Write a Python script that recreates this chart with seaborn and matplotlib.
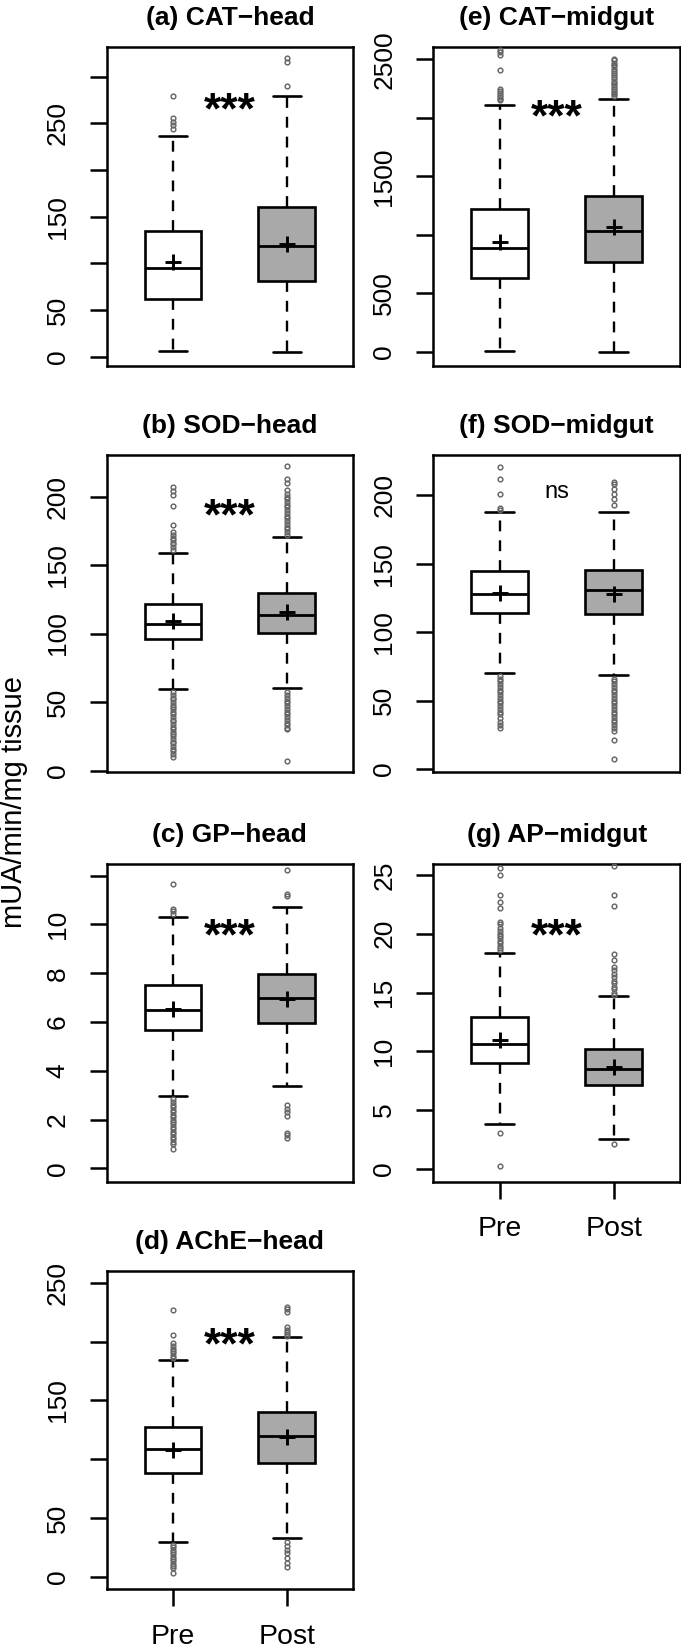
import numpy as np
import pandas as pd
import matplotlib
matplotlib.use("Agg")
import matplotlib.pyplot as plt
import seaborn as sns

# ---------------- data ----------------
groups = ["Pre", "Post"]
# five-number summaries: [lower whisker, Q1, median, Q3, upper whisker]
a_pre_box = [6.4, 61.5, 95.4, 134.7, 236.8]
a_post_box = [4.6, 81.1, 118.6, 160.4, 279.0]
a_means = [101.8, 120.4]
a_pre_out = [244, 248, 252, 256, 279]
a_post_out = [290, 316, 320]

e_pre_box = [6, 632, 886, 1225, 2108]
e_post_box = [0, 769, 1034, 1336, 2165]
e_means = [943, 1068]
e_pre_out = [2150, 2165, 2180, 2195, 2210, 2230, 2250, 2405, 2540, 2560, 2580]
e_post_out = [2190, 2205, 2215, 2230, 2245, 2260, 2280, 2295, 2310, 2330, 2350,
              2365, 2380, 2400, 2420, 2440, 2455, 2470, 2490, 2500]

b_pre_box = [59.5, 96.0, 106.9, 121.3, 159.0]
b_post_box = [60.5, 100.6, 113.5, 129.3, 170.7]
b_means = [109.1, 115.9]
b_pre_out = [161, 163, 165, 166, 168, 170, 172, 174, 179, 193, 201, 204, 207,
             57, 55, 53, 52, 50, 48, 46, 45, 43, 41, 39, 37, 36, 34, 32, 30,
             28, 27, 25, 23, 21, 20, 18, 16, 14, 12, 10]
b_post_out = [172, 174, 176, 178, 180, 182, 184, 186, 188, 190, 192, 194, 196,
              198, 200, 202, 205, 210, 213, 222,
              57, 55, 53, 51, 49, 47, 45, 43, 41, 39, 37, 35, 33, 31, 30, 7]

f_pre_box = [70.0, 113.8, 127.9, 144.7, 187.6]
f_post_box = [68.7, 113.0, 130.8, 145.5, 188.0]
f_means = [128.4, 127.9]
f_pre_out = [189, 191, 201, 212, 221,
             68, 66, 64, 62, 60, 58, 56, 54, 52, 50, 48, 46, 44, 42, 40, 37, 34, 32, 30]
f_post_out = [193, 197, 201, 205, 208, 210,
              66, 64, 62, 60, 58, 56, 54, 52, 50, 48, 46, 44, 42, 40, 38, 36, 34,
              32, 30, 28, 21, 7]

c_pre_box = [2.98, 5.68, 6.50, 7.52, 10.30]
c_post_box = [3.38, 5.95, 6.98, 7.96, 10.70]
c_means = [6.52, 6.93]
c_pre_out = [10.45, 10.55, 10.65, 11.65,
             2.85, 2.7, 2.6, 2.5, 2.4, 2.3, 2.2, 2.1, 2.0, 1.9, 1.8, 1.7, 1.6,
             1.5, 1.4, 1.3, 1.2, 1.1, 1.0, 0.8]
c_post_out = [11.15, 11.25, 12.25, 2.6, 2.45, 2.3, 2.15, 1.45, 1.35, 1.25]

g_pre_box = [3.84, 9.00, 10.65, 12.92, 18.38]
g_post_box = [2.56, 7.16, 8.50, 10.20, 14.70]
g_means = [10.94, 8.68]
g_pre_out = [18.6, 18.8, 19.0, 19.2, 19.4, 19.6, 19.8, 20.0, 20.2, 20.5, 20.8,
             21.0, 22.2, 22.7, 23.3, 25.0, 25.6, 3.07, 0.22]
g_post_out = [14.8, 15.0, 15.3, 15.5, 15.8, 16.0, 16.3, 16.6, 16.9, 17.2, 17.8,
              18.3, 22.4, 23.3, 25.8, 2.13]

d_pre_box = [29.3, 87.9, 108.3, 127.4, 184.3]
d_post_box = [32.7, 97.1, 119.9, 140.3, 204.0]
d_means = [107.7, 119.0]
d_pre_out = [186, 188, 190, 192, 194, 196, 199, 205.5, 226.8,
             27, 25, 23, 21, 19, 17, 15, 13, 11, 9, 7, 3]
d_post_out = [204.5, 206, 208, 210, 212.6, 225.4, 228, 229.6,
              29.8, 26, 23, 20, 16, 12, 8.5]

titles = {"a": ("(a)", "CAT\u2212head"), "b": ("(b)", "SOD\u2212head"),
          "c": ("(c)", "GP\u2212head"), "d": ("(d)", "AChE\u2212head"),
          "e": ("(e)", "CAT\u2212midgut"), "f": ("(f)", "SOD\u2212midgut"),
          "g": ("(g)", "AP\u2212midgut")}
significance = {"a": "***", "b": "***", "c": "***", "d": "***",
                "e": "***", "f": "ns", "g": "***"}
sig_y = {"a": 277, "b": 194.5, "c": 10.0, "d": 207.5,
         "e": 2108, "f": 202.5, "g": 20.8}

yticks = {"a": [0, 50, 100, 150, 200, 250, 300],
          "b": [0, 50, 100, 150, 200],
          "c": [0, 2, 4, 6, 8, 10, 12],
          "d": [0, 50, 100, 150, 200, 250],
          "e": [0, 500, 1000, 1500, 2000, 2500],
          "f": [0, 50, 100, 150, 200],
          "g": [0, 5, 10, 15, 20, 25]}
ytick_labels = {"a": ["0", "50", "", "150", "", "250", ""],
                "b": ["0", "50", "100", "150", "200"],
                "c": ["0", "2", "4", "6", "8", "10", ""],
                "d": ["0", "50", "", "150", "", "250"],
                "e": ["0", "500", "", "1500", "", "2500"],
                "f": ["0", "50", "100", "150", "200"],
                "g": ["0", "5", "10", "15", "20", "25"]}
ylims = {"a": (-10, 332), "b": (-1.3, 230.3), "c": (-0.54, 12.48),
         "d": (-10.5, 260), "e": (-120, 2605), "f": (-2.4, 229.5),
         "g": (-1.08, 25.94)}

panel_data = {
    "a": (a_pre_box, a_post_box, a_means, a_pre_out, a_post_out),
    "b": (b_pre_box, b_post_box, b_means, b_pre_out, b_post_out),
    "c": (c_pre_box, c_post_box, c_means, c_pre_out, c_post_out),
    "d": (d_pre_box, d_post_box, d_means, d_pre_out, d_post_out),
    "e": (e_pre_box, e_post_box, e_means, e_pre_out, e_post_out),
    "f": (f_pre_box, f_post_box, f_means, f_pre_out, f_post_out),
    "g": (g_pre_box, g_post_box, g_means, g_pre_out, g_post_out),
}

# ---------------- style ----------------
sns.set_theme(style="ticks")
plt.rcParams["font.family"] = ["Liberation Sans", "DejaVu Sans"]
plt.rcParams["axes.unicode_minus"] = True
plt.rcParams["text.color"] = "black"
plt.rcParams["axes.titlecolor"] = "black"
plt.rcParams["axes.labelcolor"] = "black"
plt.rcParams["xtick.color"] = "black"
plt.rcParams["ytick.color"] = "black"
plt.rcParams["axes.edgecolor"] = "black"

W, H = 681, 1647
fig = plt.figure(figsize=(W / 100, H / 100), dpi=100)

left_x, right_x = 107 / W, 433.3 / W
left_w, right_w = 245.7 / W, 246.7 / W
rows = [(47, 366), (455, 772.3), (864, 1181.5), (1271, 1589)]

layout = {"a": (0, 0), "b": (0, 1), "c": (0, 2), "d": (0, 3),
          "e": (1, 0), "f": (1, 1), "g": (1, 2)}
bottom_panels = {"d", "g"}

palette = {"Pre": "white", "Post": "#a9a9a9"}
LW = 1.9

for key, (col, row) in layout.items():
    top_px, bot_px = rows[row]
    x0 = left_x if col == 0 else right_x
    w = left_w if col == 0 else right_w
    ax = fig.add_axes([x0, 1 - bot_px / H, w, (bot_px - top_px) / H])

    pre_box, post_box, means, pre_out, post_out = panel_data[key]
    df = pd.DataFrame({"group": ["Pre"] * len(pre_box) + ["Post"] * len(post_box),
                       "value": pre_box + post_box})
    sns.boxplot(data=df, x="group", y="value", hue="group", order=groups,
                hue_order=groups, palette=palette, width=0.5, whis=(0, 100),
                showfliers=False, linecolor="black", linewidth=LW,
                saturation=1, legend=False, ax=ax,
                whiskerprops=dict(linestyle=(0, (4.6, 3.8)), linewidth=1.7),
                capprops=dict(linewidth=1.9),
                medianprops=dict(linewidth=2.0),
                zorder=2)

    # outliers
    for i, outs in enumerate([pre_out, post_out]):
        ax.plot([i] * len(outs), outs, linestyle="none", marker="o",
                markersize=3.4, markerfacecolor="none",
                markeredgecolor="#666666", markeredgewidth=1.05, zorder=3,
                clip_on=True)
    # means
    ax.plot([0, 1], means, linestyle="none", marker="+", markersize=11,
            markeredgewidth=2.1, color="black", zorder=4)

    # significance
    if significance[key] == "***":
        ax.annotate("***", xy=(0.5, sig_y[key]), xytext=(0, -10),
                    textcoords="offset points", ha="center", va="center",
                    fontsize=32, fontweight="bold", color="black")
    else:
        ax.annotate(significance[key], xy=(0.5, sig_y[key]), ha="center",
                    va="center", fontsize=17, color="black")

    lab, name = titles[key]
    ax.set_title(lab + " " + name, fontsize=19, fontweight="bold", pad=16,
                 color="black")

    ax.set_xlim(-0.58, 1.58)
    ax.set_ylim(*ylims[key])
    ax.set_yticks(yticks[key])
    ax.set_yticklabels(ytick_labels[key])
    ax.set_xlabel("")
    ax.set_ylabel("")
    ax.tick_params(axis="y", length=12, width=1.8, pad=23.4, labelsize=19,
                   direction="out", colors="black")
    for lbl in ax.get_yticklabels():
        lbl.set_rotation(90)
        lbl.set_va("center")
        lbl.set_ha("center")
    if key in bottom_panels:
        ax.tick_params(axis="x", length=12, width=1.8, pad=13, labelsize=20.5,
                       direction="out", colors="black")
    else:
        ax.tick_params(axis="x", bottom=False, labelbottom=False)
    for sp in ax.spines.values():
        sp.set_visible(True)
        sp.set_linewidth(1.8)
        sp.set_color("black")
    ax.grid(False)
    ax.set_facecolor("white")

fig.text(14 / W, 1 - 802 / H, "mUA/min/mg tissue", rotation=90,
         ha="center", va="center", fontsize=21, color="black")

fig.savefig("out.png", dpi=100, facecolor="white")
